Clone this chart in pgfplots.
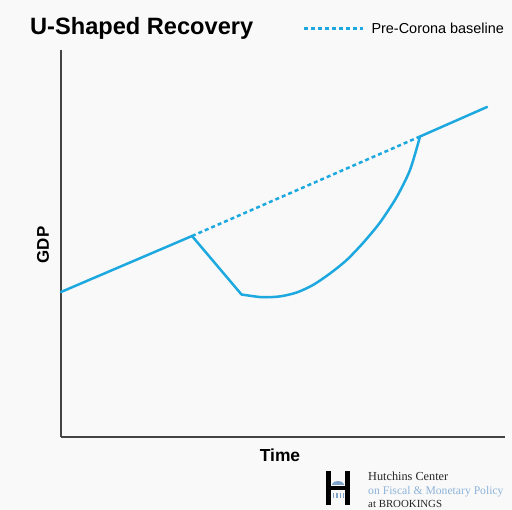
\documentclass[border=0pt]{standalone}
\usepackage{pgfplots}
\pgfplotsset{compat=1.18}
\usepackage{fontspec}
\setmainfont{Liberation Sans}
\newfontfamily\logofont{Liberation Serif}

\definecolor{bgc}{HTML}{F9F9F9}
\definecolor{gdpblue}{HTML}{1DA9E0}
\definecolor{axisgray}{HTML}{444444}
\definecolor{logoblue}{HTML}{8DB3D9}
\definecolor{iconblue}{HTML}{7FA2C8}

\begin{document}
\begin{tikzpicture}
% page background
\fill[bgc] (0,0) rectangle (512bp,510bp);
\useasboundingbox (0,0) rectangle (512bp,510bp);

\begin{axis}[
  at={(61bp,73bp)}, anchor=south west,
  scale only axis, width=444bp, height=387bp,
  xmin=61, xmax=505, ymin=0, ymax=387,
  axis lines=left,
  axis line style={-, draw=axisgray, line width=1.3bp},
  xtick=\empty, ytick=\empty,
  clip=false,
  legend style={draw=none, fill=none, inner sep=0pt, outer sep=0pt,
    at={(axis cs:303,408.7)}, anchor=west,
    font=\fontsize{14.5}{16}\selectfont,
    nodes={inner sep=0pt, text depth=0pt}},
  legend image code/.code={\draw[#1] (0bp,0bp) -- (59bp,0bp);},
  legend cell align=left,
  gdp/.style={gdpblue, line width=2.5bp, line join=round, line cap=round},
]
% pre-shock growth and the sharp drop
\addplot[gdp, forget plot] coordinates {
  (61,145) (192,201) (241.5,142.5)
};
% slow U-shaped recovery
\addplot[gdp, smooth, tension=0.45, forget plot] coordinates {
  (241.5,142.5) (262,139.8) (280,140.6) (296.7,144.5) (313,152) (330,163.5)
  (346.7,177) (363,194) (380,214.5) (396.7,240) (410,267) (420,300.5)
};
% back on trend
\addplot[gdp, forget plot] coordinates {
  (420,300.5) (487,330)
};
% pre-Corona trend
\addplot[gdpblue, line width=2.5bp, dash pattern=on 4bp off 3bp] coordinates {
  (192,201) (420,300.5)
};
\addlegendentry{\hspace{7bp}Pre-Corona baseline}
\end{axis}

% titles and axis names
\node[anchor=base west, inner sep=0pt, font=\bfseries\fontsize{23.7}{26}\selectfont]
  at (30bp,475bp) {U-Shaped Recovery};
\node[rotate=90, inner sep=0pt, font=\bfseries\fontsize{17}{19}\selectfont]
  at (43bp,265bp) {GDP};
\node[anchor=base, inner sep=0pt, font=\bfseries\fontsize{17.5}{19}\selectfont]
  at (280bp,48bp) {Time};

% Hutchins Center logo
\fill[black] (326bp,5bp) rectangle (331bp,39bp);
\fill[black] (345bp,5bp) rectangle (350bp,39bp);
\fill[black] (331bp,20bp) rectangle (345bp,24bp);
\fill[iconblue] (332bp,26bp) .. controls (334bp,30bp) and (342bp,30bp) .. (344bp,26bp) -- cycle;
\fill[iconblue] (332bp,25bp) rectangle (344bp,26bp);
\foreach \cx in {333,336.3,339.6,342.9}
  \fill[iconblue] (\cx bp,11.5bp) rectangle ++(1.2bp,5.5bp);
\node[anchor=base west, inner sep=0pt, font=\logofont\fontsize{12.3}{14}\selectfont, text=black!85]
  at (368bp,30bp) {Hutchins Center};
\node[anchor=base west, inner sep=0pt, font=\logofont\fontsize{11.7}{13}\selectfont, text=logoblue]
  at (368bp,16bp) {on Fiscal \& Monetary Policy};
\node[anchor=base west, inner sep=0pt, font=\logofont\fontsize{10.9}{12}\selectfont, text=black!85]
  at (368bp,3bp) {at BROOKINGS};
\end{tikzpicture}
\end{document}
